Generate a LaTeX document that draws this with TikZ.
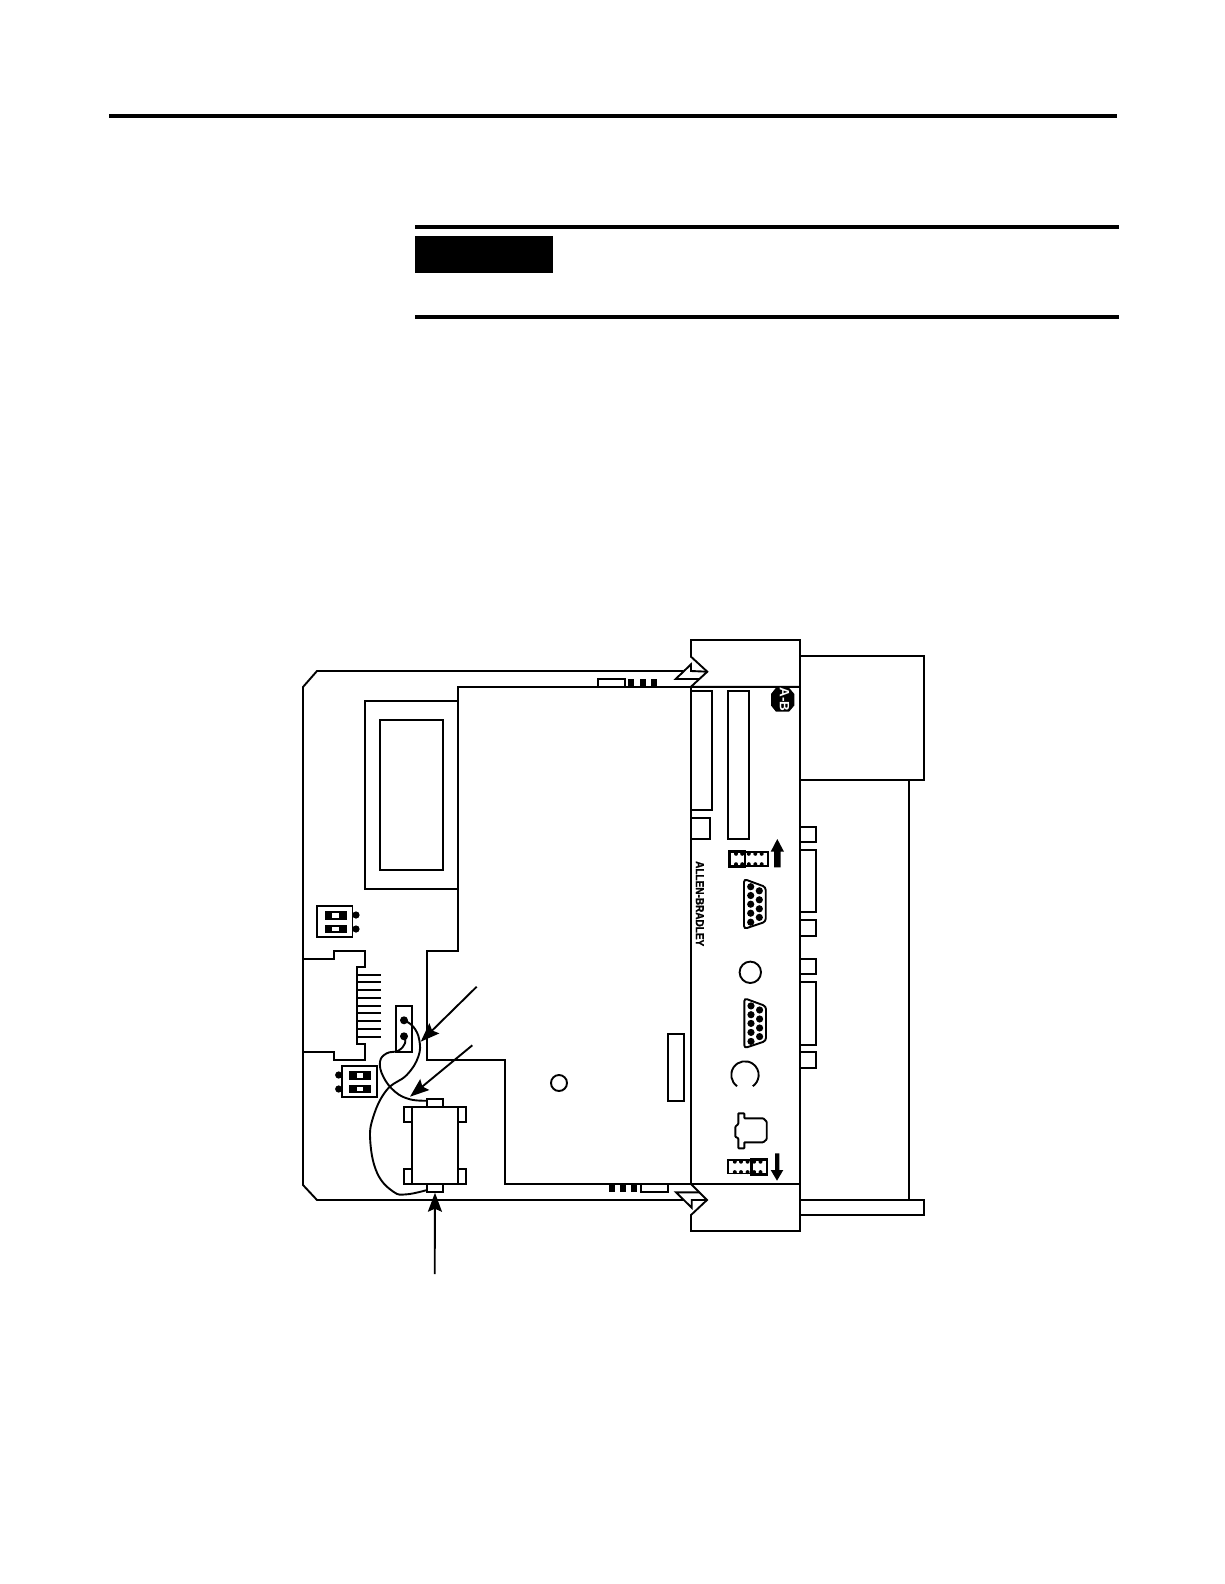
\documentclass[tikz,border=0pt]{standalone}
\usepackage{fontspec}
\setsansfont{Liberation Sans}
\newfontfamily\brandfont[BoldFeatures={FakeBold=1.6}]{Liberation Sans}
\usetikzlibrary{arrows.meta}
\tikzset{
  rule/.style={line width=4pt},
  part/.style={line width=1.9pt,line join=miter},
  thinpart/.style={line width=1.7pt},
  wire/.style={line width=1.9pt},
  callout/.style={line width=1.9pt,-{Stealth[length=19pt,width=14pt,inset=3pt]}},
  pin/.style={fill=black,draw=none},
  pad/.style={fill=black,draw=none},
}
% sub-D connector, #1/#2 = offset of the shell
\newcommand\Dsub[2]{
  \begin{scope}[shift={(#1,#2)}]
    \draw[part,rounded corners=3pt] (744,879) -- (765.7,887) -- (765.7,921.7) -- (744,929) -- cycle;
    \foreach \y in {886.7,895.5,904.2,913.2,922.2} \fill[pin] (750.7,\y) circle[radius=3.6];
    \foreach \y in {890.8,899.8,908.8,917.4} \fill[pin] (759.3,\y) circle[radius=3.6];
  \end{scope}
}
% two position switch, #1/#2 = upper left corner of the housing, #3 = x of the dots
\newcommand\Dip[3]{
  \begin{scope}[shift={(#1,#2)}]
    \foreach \y in {9,23} \fill[pin] (#3,\y) circle[radius=3.6];
    \draw[part,fill=white] (0,0) rectangle (35.5,31);
    \foreach \y in {5,18.5} {
      \fill[pad] (7.5,\y) rectangle (29.5,\y+8.8);
      \fill[white] (15,\y+2.2) rectangle (21.5,\y+6.6);
    }
  \end{scope}
}
% row of jumper pins, #1/#2 = upper left corner, black end starts at #3
\newcommand\Jumper[3]{
  \begin{scope}[shift={(#1,#2)}]
    \draw[line width=1.9pt] (0,0) rectangle (38.5,13.2);
    \draw[line width=2.4pt] (#3,-1.5) rectangle (#3+15.5,14.7);
    \foreach \x in {6.5,12.7,19.3,25.8,32.2} {
      \fill[pin] (\x,1.4) circle[radius=2];
      \fill[pin] (\x,11.8) circle[radius=2];
    }
  \end{scope}
}
\begin{document}
\begin{tikzpicture}[x=1pt,y=-1pt]
\useasboundingbox (0,0) rectangle (1224,1584);
% page rules
\draw[rule] (109,116) -- (1117,116);
\draw[rule] (415,227) -- (1119,227);
\fill[black] (415,236) rectangle (552.5,273);
\draw[rule] (415,317) -- (1119,317);
% board outline
\draw[part] (683,671) -- (317,671) -- (303,687) -- (303,1185) -- (317,1200) -- (684,1200);
% main card
\draw[part] (800,687) -- (458,687) -- (458,951) -- (427,951) -- (427,1060) -- (505,1060) -- (505,1184) -- (800,1184);
\draw[part] (364.7,701) rectangle (458,888.7);
\draw[part] (380.3,719.7) rectangle (442.7,870);
\draw[part] (559,1083) circle[radius=8];
\draw[part] (667.7,1033.7) rectangle (683.7,1101);
% board edge connector
\draw[part] (303,959) -- (334,959) -- (334,951) -- (365,951) -- (365,967) -- (357,967) -- (357,1044) -- (365,1044) -- (365,1060) -- (334,1060) -- (334,1052) -- (303,1052);
\foreach \y in {974.7,982.3,990,997.7,1005.7,1013.3,1021,1029,1036.7}
  \draw[thinpart] (357,\y) -- (381,\y);
% switches
\Dip{317}{906}{39}
\Dip{341.7}{1066}{-3}
% little squares on the card edges
\draw[part] (597.7,687) -- (597.7,679.3) -- (625,679.3) -- (625,687);
\foreach \x in {628.3,640.3,650.7} \fill[pad] (\x,678.7) rectangle (\x+6,687);
\draw[part] (640.7,1184) -- (640.7,1192.3) -- (668,1192.3) -- (668,1184);
\foreach \x in {609.3,619.5,631.3} \fill[pad] (\x,1185) rectangle (\x+6,1192.3);
% face plate
\draw[part] (691,687) -- (691,1184) -- (707,1200) -- (691,1215) -- (691,1231) -- (800,1231) -- (800,640);
\draw[part] (691,640) -- (691,656.7) -- (707.3,671.7) -- (691,686.7) -- (800,686.7) -- (800,640) -- cycle;
\draw[part] (699,679) -- (675.7,679) -- (691,664.3) -- (691,671) -- (707.3,671.7);
\draw[part] (699,1192.3) -- (676,1192.3) -- (691.7,1207.7) -- (691.7,1200) -- (707,1200);
\draw[part] (691,690.7) -- (712,690.7) -- (712,809.7) -- (691,809.7);
\draw[part] (727.7,690.7) rectangle (749,838.7);
\draw[part] (691,818.3) -- (710.3,818.3) -- (710.3,838.7) -- (691,838.7);
% logo and name
\fill[black] (776,687.7) -- (789,687.7) -- (794.3,694) -- (794.3,705.5) -- (789,711.7) -- (776,711.7) -- (771,705.5) -- (771,694) -- cycle;
\node[text=white,rotate=-90,font=\sffamily\bfseries\fontsize{13.5}{13.5}\selectfont,inner sep=0pt] (logoAB) at (784.5,699.7) {A-B};
\node[rotate=-90,anchor=west,font=\brandfont\bfseries\fontsize{11.5}{11.5}\selectfont,inner sep=0pt] (brand) at (699.8,861) {\scalebox{0.87}[1]{ALLEN-BRADLEY}};
% jumpers and their arrows
\Jumper{729.5}{852.4}{0}
\Jumper{728.3}{1160.3}{23}
\fill[black] (774,867.3) -- (780.7,867.3) -- (780.7,851.7) -- (784,851.7) -- (777.3,839) -- (770.7,851.7) -- (774,851.7) -- cycle;
\fill[black] (775,1153.3) -- (779.3,1153.3) -- (779.3,1170) -- (783.3,1170) -- (777,1180.7) -- (770.7,1170) -- (775,1170) -- cycle;
% ports
\Dsub{0}{0}
\Dsub{0.3}{119.2}
\draw[part] (750.3,972.3) circle[radius=10.7];
\draw[part] (737.1,1086.2) arc[start angle=125,end angle=415,radius=13.7];
\draw[part,rounded corners=0.7pt] (738.3,1113.3) -- (744.3,1113.3) -- (744.3,1118.3) -- (763.3,1118.3) -- (766.7,1121.7) -- (766.7,1139.3) -- (763.3,1142.3) -- (744.3,1142.3) -- (744.3,1148.3) -- (738.3,1148.3) -- (738.3,1138.3) -- (735.3,1136.7) -- (735.3,1126.7) -- (738.3,1124) -- cycle;
% back of the module
\draw[part] (800,656) rectangle (924.3,780);
\draw[part] (908.7,780) -- (908.7,1200);
\draw[part] (800,1200) rectangle (924.3,1215);
\foreach \a/\b in {827/842.3,850.3/912,920.3/936,959/974.3,982.3/1044.7,1052.3/1067.7}
  \draw[part] (800,\a) -- (815.7,\a) -- (815.7,\b) -- (800,\b);
% header with the two wires
\coordinate (pinA) at (404,1020.3);
\coordinate (pinB) at (404,1036.3);
\coordinate (nubTop) at (427,1100.7);
\coordinate (nubBot) at (427,1190);
\draw[part] (396,1006) rectangle (412,1052);
\fill[pin] (pinA) circle[radius=4];
\fill[pin] (pinB) circle[radius=4];
% ferrite on the cable
\draw[part] (411.7,1106.7) rectangle (458,1184.3);
\foreach \y/\z in {1106.7/1122.3,1168.7/1184.3} {
  \draw[part] (411.7,\y) -- (404,\y) -- (404,\z) -- (411.7,\z);
  \draw[part] (458,\y) -- (466,\y) -- (466,\z) -- (458,\z);
}
\draw[part] (427,1106.7) -- (427,1099) -- (442.7,1099) -- (442.7,1106.7);
\draw[part] (427,1184.3) -- (427,1192) -- (442.7,1192) -- (442.7,1184.3);
\draw[wire] plot[smooth,tension=0.7] coordinates {(pinA) (413.3,1026.7) (419.3,1040) (418.3,1056.7) (406.7,1075) (386.7,1090) (373.3,1116.7) (370.3,1141.7) (377.3,1173.3) (393.3,1191.7) (406.7,1194.3) (nubBot)};
\draw[wire] plot[smooth,tension=0.7] coordinates {(pinB) (405,1043.3) (398.3,1050.7) (386.7,1053.3) (380,1061.7) (383.3,1076.7) (395,1091.7) (410,1099.3) (nubTop)};
% call outs
\coordinate (calloutA) at (476.7,986.7);
\coordinate (tipA) at (420.7,1041.7);
\coordinate (calloutB) at (472.3,1045.3);
\coordinate (tipB) at (410,1096.7);
\coordinate (calloutC) at (434.7,1274);
\coordinate (tipC) at (435,1192.7);
\draw[callout] (calloutA) -- (tipA);
\draw[callout] (calloutB) -- (tipB);
\draw[callout] (calloutC) -- (tipC);
\end{tikzpicture}
\end{document}
